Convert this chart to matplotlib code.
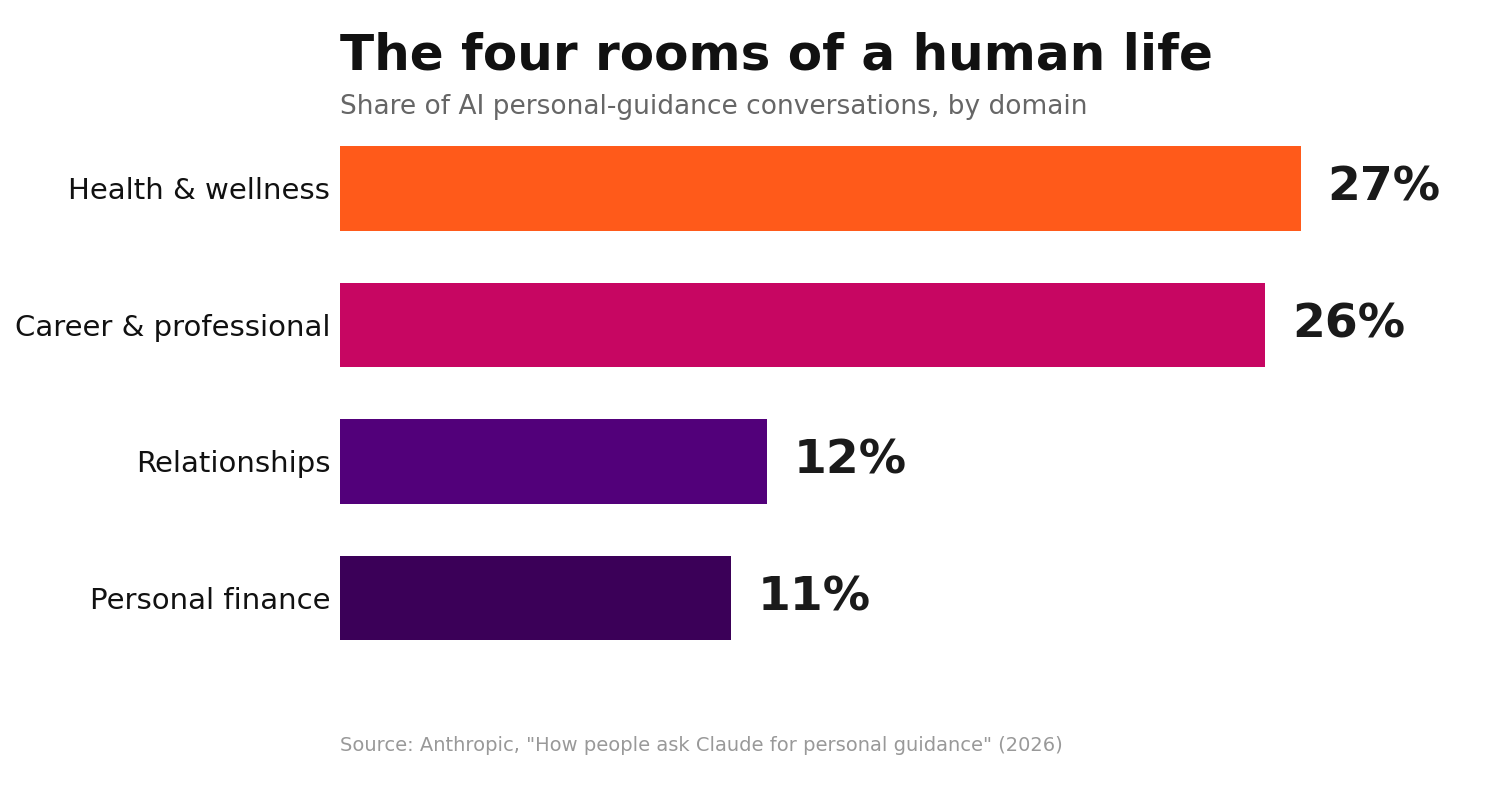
import matplotlib.pyplot as plt

# Data
domains = ['Health & wellness', 'Career & professional', 'Relationships', 'Personal finance']
shares = [27, 26, 12, 11]
colors = ['#FF5A1A', '#C70662', '#52007A', '#3B0058']

fig = plt.figure(figsize=(15.04, 7.96), dpi=100)
ax = fig.add_axes([0.226, 0.163, 0.71, 0.686])

ax.barh(range(len(domains)), shares, height=0.62, color=colors)
ax.set_ylim(3.5, -0.5)
ax.set_xlim(0, 30)
ax.set_yticks(range(len(domains)))
ax.set_yticklabels(domains, fontsize=21, color='#111111')
ax.tick_params(axis='y', length=0, pad=7)
ax.set_xticks([])
for s in ax.spines.values():
    s.set_visible(False)

for i, v in enumerate(shares):
    ax.text(v + 0.75, i, f'{v}%', va='center', ha='left', fontsize=34,
            fontweight='bold', color='#1a1a1a', clip_on=False)

fig.text(0.226, 0.93, 'The four rooms of a human life', fontsize=36,
         fontweight='bold', color='#111111', va='center', ha='left')
fig.text(0.226, 0.866, 'Share of AI personal-guidance conversations, by domain',
         fontsize=19, color='#666666', va='center', ha='left')
fig.text(0.226, 0.064, 'Source: Anthropic, "How people ask Claude for personal guidance" (2026)',
         fontsize=14, color='#999999', va='center', ha='left')

fig.savefig('out.png', dpi=100)
